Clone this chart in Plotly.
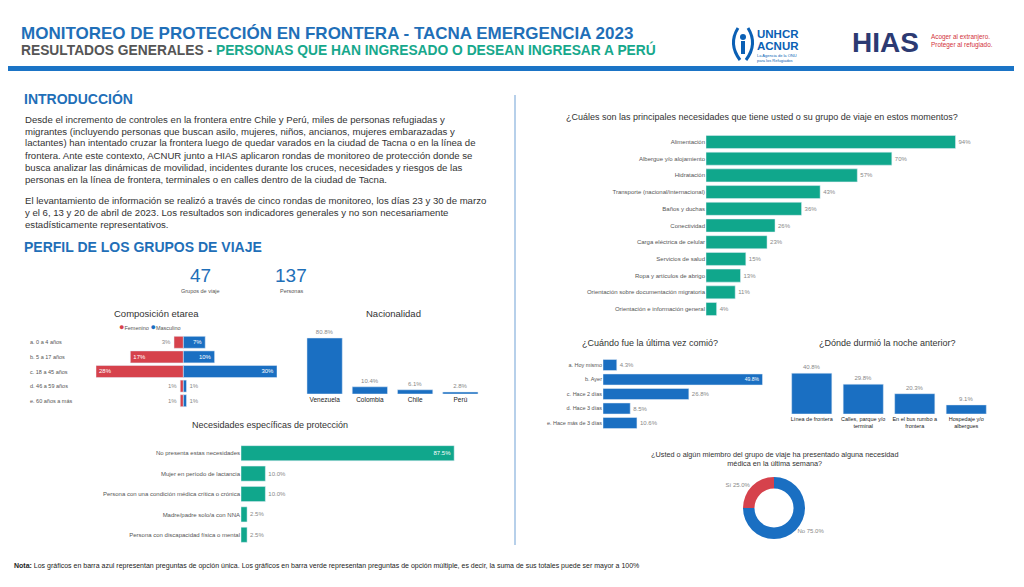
import plotly.graph_objects as go

# ---------------- DATA ----------------
kpi_values = [47, 137]
kpi_labels = ["Grupos de viaje", "Personas"]

age_groups = ["a. 0 a 4 años", "b. 5 a 17 años", "c. 18 a 45 años", "d. 46 a 59 años", "e. 60 años a más"]
female_pct = [3, 17, 28, 1, 1]
male_pct = [7, 10, 30, 1, 1]

nationalities = ["Venezuela", "Colombia", "Chile", "Perú"]
nationality_pct = [80.8, 10.4, 6.1, 2.8]

protection_needs = ["No presenta estas necesidades", "Mujer en período de lactancia",
                    "Persona con una condición médica crítica o crónica",
                    "Madre/padre solo/a con NNA", "Persona con discapacidad física o mental"]
protection_pct = [87.5, 10.0, 10.0, 2.5, 2.5]

main_needs = ["Alimentación", "Albergue y/o alojamiento", "Hidratación",
              "Transporte (nacional/internacional)", "Baños y duchas", "Conectividad",
              "Carga eléctrica de celular", "Servicios de salud", "Ropa y artículos de abrigo",
              "Orientación sobre documentación migratoria", "Orientación e información general"]
main_needs_pct = [94, 70, 57, 43, 36, 26, 23, 15, 13, 11, 4]

last_meal = ["a. Hoy mismo", "b. Ayer", "c. Hace 2 días", "d. Hace 3 días", "e. Hace más de 3 días"]
last_meal_pct = [4.3, 49.8, 26.8, 8.5, 10.6]

slept_places = ["Línea de frontera", "Calles, parque y/o<br>terminal",
                "En el bus rumbo a<br>frontera", "Hospedaje y/o<br>albergues"]
slept_pct = [40.8, 29.8, 20.3, 9.1]

medical_labels = ["No", "Sí"]
medical_pct = [75.0, 25.0]

# ---------------- STYLE ----------------
W, H = 1024, 587
BLUE = "#1a6fc2"
RED = "#d6424c"
TEAL = "#10a78c"
TITLE_BLUE = "#1f6fb8"
GRAY = "#555555"
DARK = "#333333"
FONT = "Liberation Sans, Arial, sans-serif"
NARROW = "Liberation Sans Narrow, Arial Narrow, Liberation Sans, Arial, sans-serif"


def px(x):
    return x / W


def py(y):
    return 1 - y / H


def xdom(a, b):
    return [px(a), px(b)]


def ydom(top, bottom):
    return [py(bottom), py(top)]


fig = go.Figure()

# ---- Composición etarea (xaxis / yaxis) ----
fig.add_trace(go.Bar(
    y=age_groups, x=[-v for v in female_pct], orientation="h", marker_color=RED,
    text=[f"{v}%" for v in female_pct], textposition="auto", width=0.82,
    insidetextfont=dict(color="white", size=6, family=FONT),
    outsidetextfont=dict(color="#888", size=6, family=FONT),
    showlegend=False, hoverinfo="skip", xaxis="x", yaxis="y"))
fig.add_trace(go.Bar(
    y=age_groups, x=male_pct, orientation="h", marker_color=BLUE,
    text=[f"{v}%" for v in male_pct], textposition="auto", width=0.82,
    insidetextfont=dict(color="white", size=6, family=FONT),
    outsidetextfont=dict(color="#888", size=6, family=FONT),
    showlegend=False, hoverinfo="skip", xaxis="x", yaxis="y"))

# ---- Nacionalidad (x2/y2) ----
fig.add_trace(go.Bar(
    x=nationalities, y=nationality_pct, marker_color=BLUE, width=0.78,
    text=[f"{v:.1f}%" for v in nationality_pct], textposition="outside",
    textfont=dict(color="#888", size=6, family=FONT), cliponaxis=False,
    showlegend=False, hoverinfo="skip", xaxis="x2", yaxis="y2"))

# ---- Necesidades específicas de protección (x3/y3) ----
fig.add_trace(go.Bar(
    y=protection_needs, x=protection_pct, orientation="h", marker_color=TEAL, width=0.74,
    text=[f"{v:.1f}%" for v in protection_pct],
    textposition=["inside" if v > 50 else "outside" for v in protection_pct],
    insidetextfont=dict(color="white", size=6, family=FONT),
    outsidetextfont=dict(color="#888", size=6, family=FONT), cliponaxis=False,
    showlegend=False, hoverinfo="skip", xaxis="x3", yaxis="y3"))

# ---- Principales necesidades (x4/y4) ----
fig.add_trace(go.Bar(
    y=main_needs, x=main_needs_pct, orientation="h", marker_color=TEAL, width=0.78,
    text=[f"{v}%" for v in main_needs_pct], textposition="outside",
    textfont=dict(color="#888", size=6, family=FONT), cliponaxis=False,
    showlegend=False, hoverinfo="skip", xaxis="x4", yaxis="y4"))

# ---- Última vez comió (x5/y5) ----
fig.add_trace(go.Bar(
    y=last_meal, x=last_meal_pct, orientation="h", marker_color=BLUE, width=0.76,
    text=[f"{v:.1f}%" for v in last_meal_pct],
    textposition=["inside" if v > 40 else "outside" for v in last_meal_pct],
    insidetextfont=dict(color="white", size=6, family=FONT),
    outsidetextfont=dict(color="#888", size=6, family=FONT), cliponaxis=False,
    showlegend=False, hoverinfo="skip", xaxis="x5", yaxis="y5"))

# ---- Dónde durmió (x6/y6) ----
fig.add_trace(go.Bar(
    x=slept_places, y=slept_pct, marker_color=BLUE, width=0.78,
    text=[f"{v:.1f}%" for v in slept_pct], textposition="outside",
    textfont=dict(color="#888", size=6, family=FONT), cliponaxis=False,
    showlegend=False, hoverinfo="skip", xaxis="x6", yaxis="y6"))

# ---- Donut ----
fig.add_trace(go.Pie(
    labels=medical_labels, values=medical_pct, hole=0.63, sort=False,
    direction="clockwise", rotation=0,
    marker=dict(colors=[BLUE, RED], line=dict(color="white", width=0)),
    texttemplate="%{label} %{value:.1f}%", textposition="outside",
    textfont=dict(color="#888", size=6, family=FONT),
    domain=dict(x=xdom(743, 805), y=ydom(477, 539)),
    showlegend=False, hoverinfo="skip"))

hidden = dict(showgrid=False, zeroline=False, showticklabels=False, showline=False, ticks="")
tickfont = dict(size=6, color=GRAY, family=FONT)

fig.update_layout(
    width=W, height=H, margin=dict(l=0, r=0, t=0, b=0),
    paper_bgcolor="white", plot_bgcolor="white",
    barmode="relative", bargap=0.2, showlegend=False,
    font=dict(family=FONT, color=DARK),
    # etarea
    xaxis=dict(domain=xdom(96, 277), range=[-28, 30], **hidden),
    yaxis=dict(domain=ydom(335, 408), autorange="reversed", showgrid=False,
               zeroline=False, showticklabels=False, ticks=""),
    # nacionalidad
    xaxis2=dict(domain=xdom(302, 483), anchor="y2", showgrid=False, zeroline=False,
                showline=False, ticks="", tickfont=dict(size=6.5, color="#222", family=FONT)),
    yaxis2=dict(domain=ydom(331, 394), range=[0, 90.9], anchor="x2", **hidden),
    # proteccion
    xaxis3=dict(domain=xdom(241, 470), range=[0, 94], anchor="y3", **hidden),
    yaxis3=dict(domain=ydom(443, 545), anchor="x3", autorange="reversed", showgrid=False,
                zeroline=False, showline=False, ticks="", tickfont=tickfont),
    # principales necesidades
    xaxis4=dict(domain=xdom(706, 998), range=[0, 110], anchor="y4", **hidden),
    yaxis4=dict(domain=ydom(133.6, 317.4), anchor="x4", autorange="reversed", showgrid=False,
                zeroline=False, showline=False, ticks="", tickfont=tickfont),
    # comió
    xaxis5=dict(domain=xdom(603, 775), range=[0, 53.7], anchor="y5", **hidden),
    yaxis5=dict(domain=ydom(357.75, 430.25), anchor="x5", autorange="reversed", showgrid=False,
                zeroline=False, showline=False, ticks="", tickfont=dict(size=5.5, color=GRAY, family=FONT)),
    # durmió
    xaxis6=dict(domain=xdom(786, 992), anchor="y6", showgrid=False, zeroline=False,
                showline=False, ticks="", tickfont=dict(size=5.5, color="#222", family=FONT)),
    yaxis6=dict(domain=ydom(360, 414), range=[0, 54], anchor="x6", **hidden),
)

ann = []


def text(x, y, s, size, color=DARK, xanchor="left", yanchor="middle", bold=False,
         family=FONT, align="left", **kw):
    if bold:
        s = f"<b>{s}</b>"
    ann.append(dict(x=px(x), y=py(y), xref="paper", yref="paper", text=s, showarrow=False,
                    xanchor=xanchor, yanchor=yanchor, align=align,
                    font=dict(size=size, color=color, family=family), **kw))


# Header
text(19, 33, "MONITOREO DE PROTECCIÓN EN FRONTERA - TACNA EMERGENCIA 2023", 17, TITLE_BLUE,
     bold=True, family=NARROW)
text(19, 50, "RESULTADOS GENERALES - <span style='color:#17a88c'>PERSONAS QUE HAN INGRESADO O DESEAN INGRESAR A PERÚ</span>",
     13.8, "#555555", bold=True, family=NARROW)

# Logos (text approximations)
text(755, 34, "UNHCR", 11.5, "#0a5fb4", bold=True, family=NARROW)
text(755, 46, "ACNUR", 11.5, "#0a5fb4", bold=True, family=NARROW)
text(755, 58, "La Agencia de la ONU<br>para los Refugiados", 4.0, "#0a5fb4", family=FONT)
text(850, 42, "HIAS", 28, "#2c3a72", bold=True, family=FONT)
text(929, 41, "Acoger al extranjero.<br>Proteger al refugiado.", 6.4, "#d2323c", family=FONT)

# Intro
text(22, 98, "INTRODUCCIÓN", 14, TITLE_BLUE, bold=True)
para1 = ["Desde el incremento de controles en la frontera entre Chile y Perú, miles de personas refugiadas y",
         "migrantes (incluyendo personas que buscan asilo, mujeres, niños, ancianos, mujeres embarazadas y",
         "lactantes) han intentado cruzar la frontera luego de quedar varados en la ciudad de Tacna o en la línea de",
         "frontera. Ante este contexto, ACNUR junto a HIAS aplicaron rondas de monitoreo de protección donde se",
         "busca analizar las dinámicas de movilidad, incidentes durante los cruces, necesidades y riesgos de las",
         "personas en la línea de frontera, terminales o en calles dentro de la ciudad de Tacna."]
para2 = ["El levantamiento de información se realizó a través de cinco rondas de monitoreo, los días 23 y 30 de marzo",
         "y el 6, 13 y 20 de abril de 2023. Los resultados son indicadores generales y no son necesariamente",
         "estadísticamente representativos."]
for i, line in enumerate(para1):
    text(23, 119 + 12 * i, line, 9.6, DARK)
for i, line in enumerate(para2):
    text(23, 201 + 12 * i, line, 9.6, DARK)

text(22, 247, "PERFIL DE LOS GRUPOS DE VIAJE", 14, TITLE_BLUE, bold=True)

# KPIs
for cx, v, lab in zip([200, 291], kpi_values, kpi_labels):
    text(cx, 276, str(v), 19, TITLE_BLUE, xanchor="center")
    text(cx, 291, lab, 5.5, GRAY, xanchor="center")

# Chart titles
text(156, 313, "Composición etarea", 9.5, DARK, xanchor="center")
text(393, 313, "Nacionalidad", 9.5, DARK, xanchor="center")
text(270, 425, "Necesidades específicas de protección", 9, DARK, xanchor="center")
text(762, 117, "¿Cuáles son las principales necesidades que tiene usted o su grupo de viaje en estos momentos?",
     9, DARK, xanchor="center")
text(650, 343, "¿Cuándo fue la última vez comió?", 9, DARK, xanchor="center")
text(887, 343, "¿Dónde durmió la noche anterior?", 9, DARK, xanchor="center")
text(774, 459, "¿Usted o algún miembro del grupo de viaje ha presentado alguna necesidad<br>médica en la última semana?",
     7.3, DARK, xanchor="center", align="center")

# Etarea legend
text(117, 327, f"<span style='color:{RED};font-size:9px'>●</span>Femenino "
               f"<span style='color:{BLUE};font-size:9px'>●</span>Masculino", 5.5, GRAY)

# Etarea category labels (left aligned)
for g in age_groups:
    ann.append(dict(x=px(28), y=g, xref="paper", yref="y", text=g, showarrow=False,
                    xanchor="left", yanchor="middle", font=dict(size=5.5, color=GRAY, family=FONT)))

# Footer note
text(12, 566, "<b>Nota:</b> Los gráficos en barra azul representan preguntas de opción única. Los gráficos en barra verde "
              "representan preguntas de opción múltiple, es decir, la suma de sus totales puede ser mayor a 100%",
     7.0, "#222222")

fig.update_layout(annotations=ann)

# Shapes: header rule, divider, UNHCR emblem
shapes = [
    dict(type="line", xref="paper", yref="paper", x0=px(8), x1=px(1014), y0=py(68.5), y1=py(68.5),
         line=dict(color="#1b74c6", width=5)),
    dict(type="line", xref="paper", yref="paper", x0=px(515), x1=px(515), y0=py(95), y1=py(545),
         line=dict(color="#9fc0e3", width=1.5)),
    dict(type="path", xref="paper", yref="paper",
         path=f"M {px(738)} {py(28)} Q {px(728)} {py(44)} {px(740)} {py(60)}",
         line=dict(color="#0a5fb4", width=3)),
    dict(type="path", xref="paper", yref="paper",
         path=f"M {px(748)} {py(28)} Q {px(758)} {py(44)} {px(746)} {py(60)}",
         line=dict(color="#0a5fb4", width=3)),
    dict(type="circle", xref="paper", yref="paper", x0=px(740), x1=px(746), y0=py(40), y1=py(34),
         fillcolor="#0a5fb4", line=dict(width=0)),
    dict(type="rect", xref="paper", yref="paper", x0=px(741), x1=px(745), y0=py(54), y1=py(41),
         fillcolor="#0a5fb4", line=dict(width=0)),
]
fig.update_layout(shapes=shapes)

fig.write_html("out.html", config={"displayModeBar": False},
               post_script="document.body.style.margin='0';document.body.style.overflow='hidden';")
